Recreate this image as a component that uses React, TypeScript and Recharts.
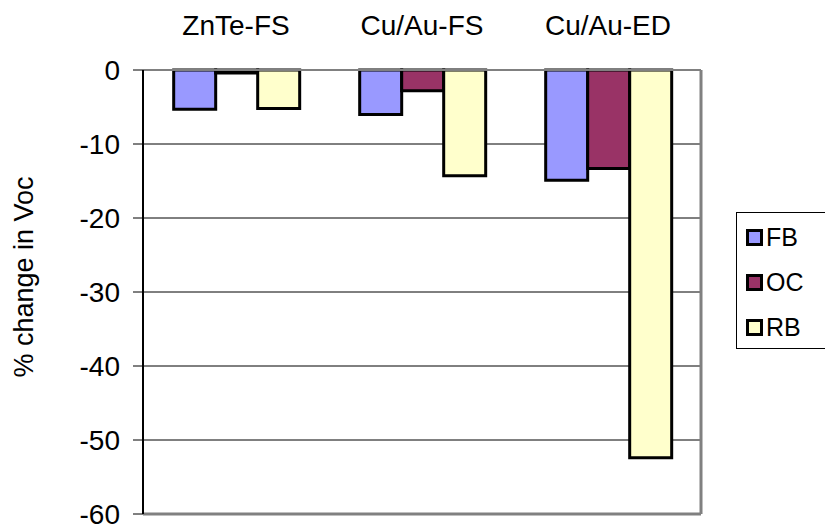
import { BarChart, Bar, XAxis, YAxis, CartesianGrid, ReferenceLine, Legend } from "recharts";

const categories = ["ZnTe-FS", "Cu/Au-FS", "Cu/Au-ED"];
const fbValues = [-5.3, -6.0, -14.9];
const ocValues = [-0.4, -2.8, -13.3];
const rbValues = [-5.2, -14.3, -52.4];
const yTicks = [0, -10, -20, -30, -40, -50, -60];

const SERIES = [
  { key: "FB", color: "#9999FF" },
  { key: "OC", color: "#993366" },
  { key: "RB", color: "#FFFFCC" },
];

const data = categories.map((name, i) => ({
  name,
  FB: fbValues[i],
  OC: ocValues[i],
  RB: rbValues[i],
}));

const FONT = "'Liberation Sans', Arial, sans-serif";

function LegendBox() {
  return (
    <div
      style={{
        border: "1px solid #000",
        background: "#fff",
        width: 92,
        height: 137,
        boxSizing: "border-box",
        paddingTop: 2,
        paddingLeft: 9,
        fontFamily: FONT,
        fontSize: 25,
        color: "#000",
      }}
    >
      {SERIES.map((s) => (
        <div key={s.key} style={{ display: "flex", alignItems: "center", height: 45 }}>
          <span
            style={{
              display: "inline-block",
              width: 11,
              height: 11,
              border: "3px solid #000",
              background: s.color,
              marginRight: 3,
            }}
          />
          <span>{s.key}</span>
        </div>
      ))}
    </div>
  );
}

function YLabel() {
  return (
    <text
      x={24}
      y={277}
      transform="rotate(-90, 24, 277)"
      textAnchor="middle"
      dominantBaseline="central"
      fontFamily={FONT}
      fontSize={27}
      fill="#000"
    >
      % change in Voc
    </text>
  );
}

export default function App() {
  return (
    <div style={{ position: "absolute", left: 0, top: 0, width: 825, height: 529, background: "#fff" }}>
      <BarChart
        width={825}
        height={529}
        data={data}
        margin={{ top: 0, right: 123, left: 0, bottom: 15 }}
        barCategoryGap="16.5%"
        barGap={0}
      >
        <CartesianGrid vertical={false} stroke="#000" strokeWidth={1} />
        <XAxis
          dataKey="name"
          orientation="top"
          height={70}
          tickLine={false}
          axisLine={{ stroke: "#808080", strokeWidth: 2 }}
          tickSize={0}
          tickMargin={35}
          tick={{ fontSize: 28, fill: "#000", fontFamily: FONT }}
        />
        <YAxis
          domain={[-60, 0]}
          ticks={yTicks}
          interval={0}
          width={143}
          axisLine={{ stroke: "#000", strokeWidth: 2 }}
          tickLine={{ stroke: "#000" }}
          tickSize={10}
          tickMargin={13}
          tick={{ fontSize: 28, fill: "#000", fontFamily: FONT }}
          label={<YLabel />}
        />
        <YAxis
          yAxisId="frame"
          orientation="right"
          domain={[-60, 0]}
          width={1}
          tick={false}
          tickLine={false}
          axisLine={{ stroke: "#808080", strokeWidth: 3 }}
        />
        <ReferenceLine y={-60} stroke="#808080" strokeWidth={3} />
        <Legend
          verticalAlign="middle"
          align="center"
          layout="horizontal"
          content={() => <LegendBox />}
          wrapperStyle={{ left: 736, top: 212, width: 92 }}
        />
        {SERIES.map((s) => (
          <Bar
            key={s.key}
            dataKey={s.key}
            fill={s.color}
            stroke="#000"
            strokeWidth={3}
            isAnimationActive={false}
          />
        ))}
      </BarChart>
    </div>
  );
}
